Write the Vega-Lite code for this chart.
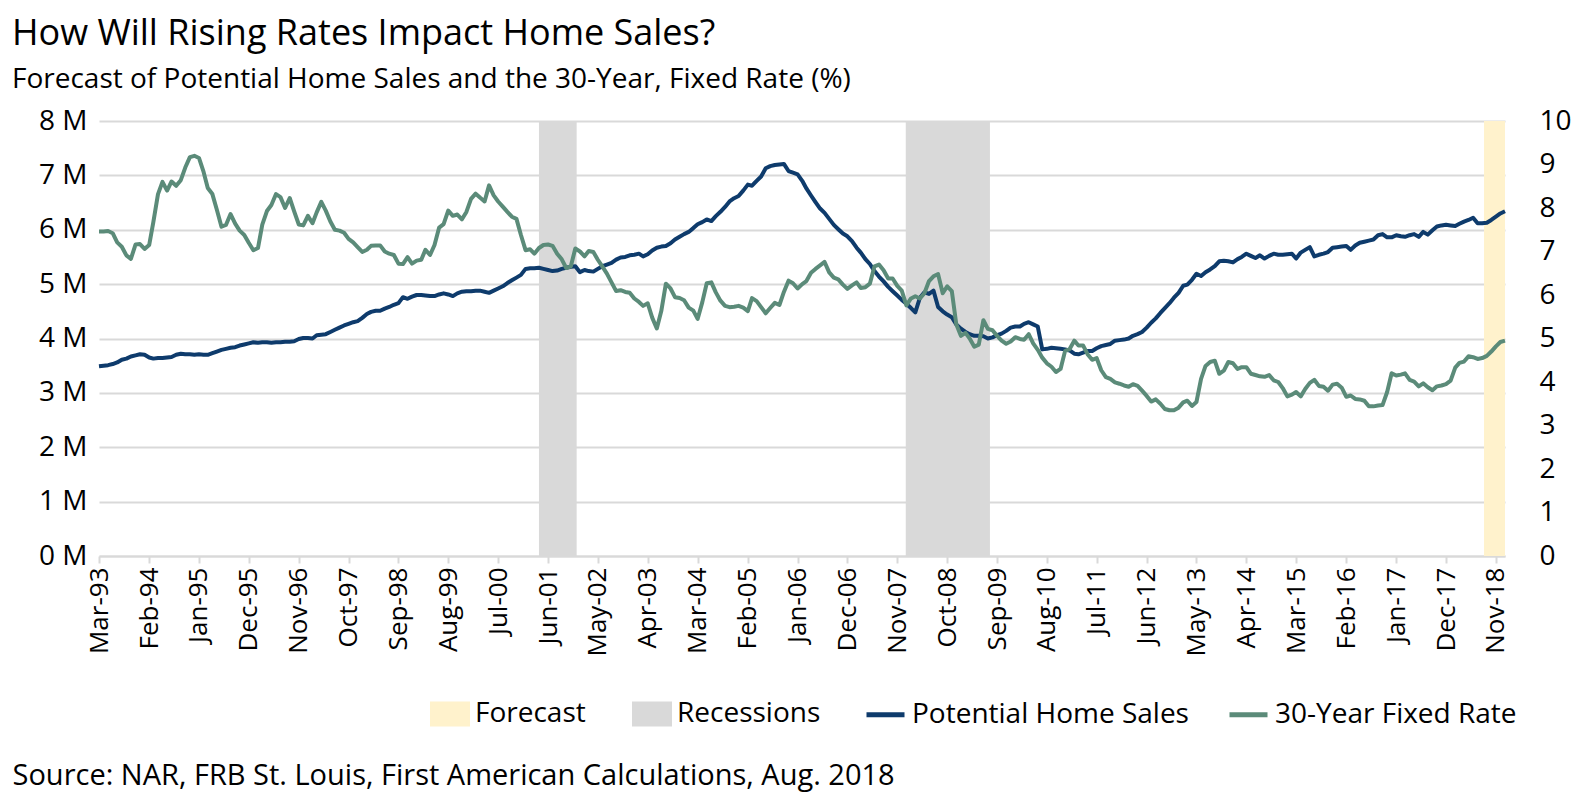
{
"$schema": "https://vega.github.io/schema/vega-lite/v6.json",
"width": 1406, "height": 435,
"autosize": {"type": "none"},
"padding": {"left": 99, "top": 121, "right": 80, "bottom": 248},
"background": "white",
"config": {"font": "Open Sans", "view": {"stroke": null}},
"title": {"text": "How Will Rising Rates Impact Home Sales?", "subtitle": "Forecast of Potential Home Sales and the 30-Year, Fixed Rate (%)", "anchor": "start", "frame": "group", "dx": -87, "offset": 12, "fontSize": 36, "fontWeight": "normal", "color": "#000000", "subtitleFontSize": 28, "subtitleColor": "#000000", "subtitlePadding": 13, "font": "Open Sans", "subtitleFont": "Open Sans"},
"datasets": {
"bands": [
{"start": "2001-04-01", "end": "2001-12-10", "band": "Recessions"},
{"start": "2007-12-28", "end": "2009-07-15", "band": "Recessions"},
{"start": "2018-08-13", "end": "2019-01-01", "band": "Forecast"}
],
"series": [
{"date":"1993-03-01","sales":3.49,"rate":7.46},{"date":"1993-04-01","sales":3.50,"rate":7.46},{"date":"1993-05-01","sales":3.51,"rate":7.47},{"date":"1993-06-01","sales":3.53,"rate":7.42},{"date":"1993-07-01","sales":3.56,"rate":7.21},{"date":"1993-08-01","sales":3.61,"rate":7.11},{"date":"1993-09-01","sales":3.63,"rate":6.91},{"date":"1993-10-01","sales":3.67,"rate":6.83},{"date":"1993-11-01","sales":3.69,"rate":7.16},{"date":"1993-12-01","sales":3.71,"rate":7.17},
{"date":"1994-01-01","sales":3.70,"rate":7.06},{"date":"1994-02-01","sales":3.65,"rate":7.15},{"date":"1994-03-01","sales":3.63,"rate":7.68},{"date":"1994-04-01","sales":3.64,"rate":8.32},{"date":"1994-05-01","sales":3.64,"rate":8.60},{"date":"1994-06-01","sales":3.65,"rate":8.40},{"date":"1994-07-01","sales":3.66,"rate":8.61},{"date":"1994-08-01","sales":3.70,"rate":8.51},{"date":"1994-09-01","sales":3.72,"rate":8.64},{"date":"1994-10-01","sales":3.71,"rate":8.93},{"date":"1994-11-01","sales":3.71,"rate":9.17},{"date":"1994-12-01","sales":3.70,"rate":9.20},
{"date":"1995-01-01","sales":3.71,"rate":9.15},{"date":"1995-02-01","sales":3.70,"rate":8.83},{"date":"1995-03-01","sales":3.70,"rate":8.46},{"date":"1995-04-01","sales":3.73,"rate":8.32},{"date":"1995-05-01","sales":3.76,"rate":7.96},{"date":"1995-06-01","sales":3.79,"rate":7.57},{"date":"1995-07-01","sales":3.81,"rate":7.61},{"date":"1995-08-01","sales":3.83,"rate":7.86},{"date":"1995-09-01","sales":3.84,"rate":7.64},{"date":"1995-10-01","sales":3.87,"rate":7.48},{"date":"1995-11-01","sales":3.89,"rate":7.38},{"date":"1995-12-01","sales":3.91,"rate":7.20},
{"date":"1996-01-01","sales":3.93,"rate":7.03},{"date":"1996-02-01","sales":3.92,"rate":7.08},{"date":"1996-03-01","sales":3.93,"rate":7.62},{"date":"1996-04-01","sales":3.93,"rate":7.93},{"date":"1996-05-01","sales":3.92,"rate":8.07},{"date":"1996-06-01","sales":3.93,"rate":8.32},{"date":"1996-07-01","sales":3.93,"rate":8.25},{"date":"1996-08-01","sales":3.94,"rate":8.00},{"date":"1996-09-01","sales":3.94,"rate":8.23},{"date":"1996-10-01","sales":3.95,"rate":7.92},{"date":"1996-11-01","sales":3.99,"rate":7.62},{"date":"1996-12-01","sales":4.01,"rate":7.60},
{"date":"1997-01-01","sales":4.01,"rate":7.82},{"date":"1997-02-01","sales":4.00,"rate":7.65},{"date":"1997-03-01","sales":4.06,"rate":7.90},{"date":"1997-04-01","sales":4.07,"rate":8.14},{"date":"1997-05-01","sales":4.08,"rate":7.94},{"date":"1997-06-01","sales":4.12,"rate":7.69},{"date":"1997-07-01","sales":4.16,"rate":7.50},{"date":"1997-08-01","sales":4.20,"rate":7.48},{"date":"1997-09-01","sales":4.24,"rate":7.43},{"date":"1997-10-01","sales":4.27,"rate":7.29},{"date":"1997-11-01","sales":4.30,"rate":7.21},{"date":"1997-12-01","sales":4.32,"rate":7.10},
{"date":"1998-01-01","sales":4.38,"rate":6.99},{"date":"1998-02-01","sales":4.45,"rate":7.04},{"date":"1998-03-01","sales":4.49,"rate":7.13},{"date":"1998-04-01","sales":4.51,"rate":7.14},{"date":"1998-05-01","sales":4.51,"rate":7.14},{"date":"1998-06-01","sales":4.55,"rate":7.00},{"date":"1998-07-01","sales":4.58,"rate":6.95},{"date":"1998-08-01","sales":4.62,"rate":6.92},{"date":"1998-09-01","sales":4.65,"rate":6.72},{"date":"1998-10-01","sales":4.76,"rate":6.71},{"date":"1998-11-01","sales":4.73,"rate":6.87},{"date":"1998-12-01","sales":4.77,"rate":6.72},
{"date":"1999-01-01","sales":4.80,"rate":6.79},{"date":"1999-02-01","sales":4.80,"rate":6.81},{"date":"1999-03-01","sales":4.79,"rate":7.04},{"date":"1999-04-01","sales":4.78,"rate":6.92},{"date":"1999-05-01","sales":4.78,"rate":7.15},{"date":"1999-06-01","sales":4.81,"rate":7.55},{"date":"1999-07-01","sales":4.83,"rate":7.63},{"date":"1999-08-01","sales":4.81,"rate":7.94},{"date":"1999-09-01","sales":4.78,"rate":7.82},{"date":"1999-10-01","sales":4.83,"rate":7.85},{"date":"1999-11-01","sales":4.86,"rate":7.74},{"date":"1999-12-01","sales":4.87,"rate":7.91},
{"date":"2000-01-01","sales":4.87,"rate":8.21},{"date":"2000-02-01","sales":4.88,"rate":8.33},{"date":"2000-03-01","sales":4.88,"rate":8.24},{"date":"2000-04-01","sales":4.86,"rate":8.15},{"date":"2000-05-01","sales":4.84,"rate":8.52},{"date":"2000-06-01","sales":4.88,"rate":8.29},{"date":"2000-07-01","sales":4.92,"rate":8.15},{"date":"2000-08-01","sales":4.96,"rate":8.03},{"date":"2000-09-01","sales":5.02,"rate":7.91},{"date":"2000-10-01","sales":5.07,"rate":7.80},{"date":"2000-11-01","sales":5.12,"rate":7.75},{"date":"2000-12-01","sales":5.17,"rate":7.38},
{"date":"2001-01-01","sales":5.28,"rate":7.03},{"date":"2001-02-01","sales":5.29,"rate":7.05},{"date":"2001-03-01","sales":5.29,"rate":6.95},{"date":"2001-04-01","sales":5.30,"rate":7.08},{"date":"2001-05-01","sales":5.28,"rate":7.15},{"date":"2001-06-01","sales":5.26,"rate":7.16},{"date":"2001-07-01","sales":5.24,"rate":7.13},{"date":"2001-08-01","sales":5.25,"rate":6.95},{"date":"2001-09-01","sales":5.28,"rate":6.82},{"date":"2001-10-01","sales":5.30,"rate":6.62},{"date":"2001-11-01","sales":5.32,"rate":6.66},{"date":"2001-12-01","sales":5.33,"rate":7.07},
{"date":"2002-01-01","sales":5.22,"rate":7.00},{"date":"2002-02-01","sales":5.26,"rate":6.89},{"date":"2002-03-01","sales":5.24,"rate":7.01},{"date":"2002-04-01","sales":5.23,"rate":6.99},{"date":"2002-05-01","sales":5.28,"rate":6.81},{"date":"2002-06-01","sales":5.33,"rate":6.65},{"date":"2002-07-01","sales":5.36,"rate":6.49},{"date":"2002-08-01","sales":5.39,"rate":6.29},{"date":"2002-09-01","sales":5.45,"rate":6.09},{"date":"2002-10-01","sales":5.49,"rate":6.11},{"date":"2002-11-01","sales":5.50,"rate":6.07},{"date":"2002-12-01","sales":5.53,"rate":6.05},
{"date":"2003-01-01","sales":5.54,"rate":5.92},{"date":"2003-02-01","sales":5.56,"rate":5.84},{"date":"2003-03-01","sales":5.51,"rate":5.75},{"date":"2003-04-01","sales":5.55,"rate":5.81},{"date":"2003-05-01","sales":5.62,"rate":5.48},{"date":"2003-06-01","sales":5.67,"rate":5.23},{"date":"2003-07-01","sales":5.69,"rate":5.63},{"date":"2003-08-01","sales":5.70,"rate":6.26},{"date":"2003-09-01","sales":5.75,"rate":6.15},{"date":"2003-10-01","sales":5.82,"rate":5.95},{"date":"2003-11-01","sales":5.87,"rate":5.93},{"date":"2003-12-01","sales":5.92,"rate":5.88},
{"date":"2004-01-01","sales":5.96,"rate":5.71},{"date":"2004-02-01","sales":6.03,"rate":5.64},{"date":"2004-03-01","sales":6.10,"rate":5.45},{"date":"2004-04-01","sales":6.14,"rate":5.83},{"date":"2004-05-01","sales":6.19,"rate":6.27},{"date":"2004-06-01","sales":6.16,"rate":6.29},{"date":"2004-07-01","sales":6.25,"rate":6.06},{"date":"2004-08-01","sales":6.33,"rate":5.87},{"date":"2004-09-01","sales":6.42,"rate":5.75},{"date":"2004-10-01","sales":6.52,"rate":5.72},{"date":"2004-11-01","sales":6.58,"rate":5.73},{"date":"2004-12-01","sales":6.62,"rate":5.75},
{"date":"2005-01-01","sales":6.72,"rate":5.71},{"date":"2005-02-01","sales":6.83,"rate":5.63},{"date":"2005-03-01","sales":6.81,"rate":5.93},{"date":"2005-04-01","sales":6.90,"rate":5.86},{"date":"2005-05-01","sales":6.98,"rate":5.72},{"date":"2005-06-01","sales":7.13,"rate":5.58},{"date":"2005-07-01","sales":7.17,"rate":5.70},{"date":"2005-08-01","sales":7.19,"rate":5.82},{"date":"2005-09-01","sales":7.20,"rate":5.77},{"date":"2005-10-01","sales":7.21,"rate":6.07},{"date":"2005-11-01","sales":7.08,"rate":6.33},{"date":"2005-12-01","sales":7.05,"rate":6.27},
{"date":"2006-01-01","sales":7.02,"rate":6.15},{"date":"2006-02-01","sales":6.90,"rate":6.25},{"date":"2006-03-01","sales":6.76,"rate":6.32},{"date":"2006-04-01","sales":6.63,"rate":6.51},{"date":"2006-05-01","sales":6.51,"rate":6.60},{"date":"2006-06-01","sales":6.39,"rate":6.68},{"date":"2006-07-01","sales":6.31,"rate":6.76},{"date":"2006-08-01","sales":6.20,"rate":6.52},{"date":"2006-09-01","sales":6.09,"rate":6.40},{"date":"2006-10-01","sales":6.01,"rate":6.36},{"date":"2006-11-01","sales":5.93,"rate":6.24},{"date":"2006-12-01","sales":5.88,"rate":6.14},
{"date":"2007-01-01","sales":5.79,"rate":6.22},{"date":"2007-02-01","sales":5.67,"rate":6.29},{"date":"2007-03-01","sales":5.58,"rate":6.16},{"date":"2007-04-01","sales":5.46,"rate":6.18},{"date":"2007-05-01","sales":5.37,"rate":6.26},{"date":"2007-06-01","sales":5.24,"rate":6.66},{"date":"2007-07-01","sales":5.14,"rate":6.70},{"date":"2007-08-01","sales":5.05,"rate":6.57},{"date":"2007-09-01","sales":4.95,"rate":6.38},{"date":"2007-10-01","sales":4.87,"rate":6.38},{"date":"2007-11-01","sales":4.79,"rate":6.21},{"date":"2007-12-01","sales":4.71,"rate":6.10},
{"date":"2008-01-01","sales":4.64,"rate":5.76},{"date":"2008-02-01","sales":4.56,"rate":5.92},{"date":"2008-03-01","sales":4.48,"rate":5.97},{"date":"2008-04-01","sales":4.75,"rate":5.92},{"date":"2008-05-01","sales":4.85,"rate":6.04},{"date":"2008-06-01","sales":4.82,"rate":6.32},{"date":"2008-07-01","sales":4.88,"rate":6.43},{"date":"2008-08-01","sales":4.58,"rate":6.48},{"date":"2008-09-01","sales":4.50,"rate":6.04},{"date":"2008-10-01","sales":4.44,"rate":6.20},{"date":"2008-11-01","sales":4.39,"rate":6.09},{"date":"2008-12-01","sales":4.26,"rate":5.33},
{"date":"2009-01-01","sales":4.18,"rate":5.06},{"date":"2009-02-01","sales":4.12,"rate":5.13},{"date":"2009-03-01","sales":4.08,"rate":5.00},{"date":"2009-04-01","sales":4.05,"rate":4.81},{"date":"2009-05-01","sales":4.05,"rate":4.86},{"date":"2009-06-01","sales":4.04,"rate":5.42},{"date":"2009-07-01","sales":4.00,"rate":5.22},{"date":"2009-08-01","sales":4.02,"rate":5.19},{"date":"2009-09-01","sales":4.06,"rate":5.06},{"date":"2009-10-01","sales":4.09,"rate":4.95},{"date":"2009-11-01","sales":4.14,"rate":4.88},{"date":"2009-12-01","sales":4.20,"rate":4.93},
{"date":"2010-01-01","sales":4.22,"rate":5.03},{"date":"2010-02-01","sales":4.22,"rate":4.99},{"date":"2010-03-01","sales":4.27,"rate":4.97},{"date":"2010-04-01","sales":4.30,"rate":5.10},{"date":"2010-05-01","sales":4.26,"rate":4.89},{"date":"2010-06-01","sales":4.22,"rate":4.74},{"date":"2010-07-01","sales":3.80,"rate":4.56},{"date":"2010-08-01","sales":3.81,"rate":4.43},{"date":"2010-09-01","sales":3.83,"rate":4.35},{"date":"2010-10-01","sales":3.82,"rate":4.23},{"date":"2010-11-01","sales":3.81,"rate":4.30},{"date":"2010-12-01","sales":3.80,"rate":4.71},
{"date":"2011-01-01","sales":3.78,"rate":4.76},{"date":"2011-02-01","sales":3.72,"rate":4.95},{"date":"2011-03-01","sales":3.71,"rate":4.84},{"date":"2011-04-01","sales":3.74,"rate":4.84},{"date":"2011-05-01","sales":3.77,"rate":4.64},{"date":"2011-06-01","sales":3.77,"rate":4.51},{"date":"2011-07-01","sales":3.82,"rate":4.55},{"date":"2011-08-01","sales":3.86,"rate":4.27},{"date":"2011-09-01","sales":3.88,"rate":4.11},{"date":"2011-10-01","sales":3.90,"rate":4.07},{"date":"2011-11-01","sales":3.96,"rate":3.99},{"date":"2011-12-01","sales":3.97,"rate":3.96},
{"date":"2012-01-01","sales":3.98,"rate":3.92},{"date":"2012-02-01","sales":4.00,"rate":3.89},{"date":"2012-03-01","sales":4.05,"rate":3.95},{"date":"2012-04-01","sales":4.08,"rate":3.91},{"date":"2012-05-01","sales":4.12,"rate":3.80},{"date":"2012-06-01","sales":4.20,"rate":3.68},{"date":"2012-07-01","sales":4.29,"rate":3.55},{"date":"2012-08-01","sales":4.37,"rate":3.60},{"date":"2012-09-01","sales":4.47,"rate":3.50},{"date":"2012-10-01","sales":4.56,"rate":3.38},{"date":"2012-11-01","sales":4.65,"rate":3.35},{"date":"2012-12-01","sales":4.75,"rate":3.35},
{"date":"2013-01-01","sales":4.84,"rate":3.41},{"date":"2013-02-01","sales":4.97,"rate":3.53},{"date":"2013-03-01","sales":4.99,"rate":3.57},{"date":"2013-04-01","sales":5.08,"rate":3.45},{"date":"2013-05-01","sales":5.19,"rate":3.54},{"date":"2013-06-01","sales":5.15,"rate":4.07},{"date":"2013-07-01","sales":5.22,"rate":4.37},{"date":"2013-08-01","sales":5.27,"rate":4.46},{"date":"2013-09-01","sales":5.33,"rate":4.49},{"date":"2013-10-01","sales":5.42,"rate":4.19},{"date":"2013-11-01","sales":5.43,"rate":4.26},{"date":"2013-12-01","sales":5.42,"rate":4.46},
{"date":"2014-01-01","sales":5.40,"rate":4.43},{"date":"2014-02-01","sales":5.46,"rate":4.30},{"date":"2014-03-01","sales":5.50,"rate":4.34},{"date":"2014-04-01","sales":5.56,"rate":4.34},{"date":"2014-05-01","sales":5.52,"rate":4.19},{"date":"2014-06-01","sales":5.48,"rate":4.16},{"date":"2014-07-01","sales":5.53,"rate":4.13},{"date":"2014-08-01","sales":5.47,"rate":4.12},{"date":"2014-09-01","sales":5.52,"rate":4.16},{"date":"2014-10-01","sales":5.56,"rate":4.04},{"date":"2014-11-01","sales":5.54,"rate":4.00},{"date":"2014-12-01","sales":5.54,"rate":3.86},
{"date":"2015-01-01","sales":5.55,"rate":3.67},{"date":"2015-02-01","sales":5.56,"rate":3.71},{"date":"2015-03-01","sales":5.47,"rate":3.77},{"date":"2015-04-01","sales":5.58,"rate":3.67},{"date":"2015-05-01","sales":5.63,"rate":3.84},{"date":"2015-06-01","sales":5.68,"rate":3.98},{"date":"2015-07-01","sales":5.51,"rate":4.05},{"date":"2015-08-01","sales":5.54,"rate":3.91},{"date":"2015-09-01","sales":5.56,"rate":3.89},{"date":"2015-10-01","sales":5.59,"rate":3.80},{"date":"2015-11-01","sales":5.67,"rate":3.94},{"date":"2015-12-01","sales":5.68,"rate":3.96},
{"date":"2016-01-01","sales":5.69,"rate":3.87},{"date":"2016-02-01","sales":5.70,"rate":3.66},{"date":"2016-03-01","sales":5.63,"rate":3.69},{"date":"2016-04-01","sales":5.71,"rate":3.61},{"date":"2016-05-01","sales":5.76,"rate":3.60},{"date":"2016-06-01","sales":5.78,"rate":3.57},{"date":"2016-07-01","sales":5.80,"rate":3.44},{"date":"2016-08-01","sales":5.82,"rate":3.44},{"date":"2016-09-01","sales":5.90,"rate":3.46},{"date":"2016-10-01","sales":5.92,"rate":3.47},{"date":"2016-11-01","sales":5.86,"rate":3.77},{"date":"2016-12-01","sales":5.86,"rate":4.20},
{"date":"2017-01-01","sales":5.90,"rate":4.15},{"date":"2017-02-01","sales":5.88,"rate":4.17},{"date":"2017-03-01","sales":5.87,"rate":4.20},{"date":"2017-04-01","sales":5.90,"rate":4.05},{"date":"2017-05-01","sales":5.92,"rate":4.01},{"date":"2017-06-01","sales":5.87,"rate":3.90},{"date":"2017-07-01","sales":5.96,"rate":3.97},{"date":"2017-08-01","sales":5.91,"rate":3.88},{"date":"2017-09-01","sales":5.99,"rate":3.81},{"date":"2017-10-01","sales":6.06,"rate":3.90},{"date":"2017-11-01","sales":6.08,"rate":3.92},{"date":"2017-12-01","sales":6.09,"rate":3.95},
{"date":"2018-01-01","sales":6.08,"rate":4.03},{"date":"2018-02-01","sales":6.07,"rate":4.33},{"date":"2018-03-01","sales":6.11,"rate":4.44},{"date":"2018-04-01","sales":6.15,"rate":4.47},{"date":"2018-05-01","sales":6.18,"rate":4.59},{"date":"2018-06-01","sales":6.22,"rate":4.57},{"date":"2018-07-01","sales":6.12,"rate":4.53},{"date":"2018-08-01","sales":6.12,"rate":4.55},{"date":"2018-09-01","sales":6.13,"rate":4.60},{"date":"2018-10-01","sales":6.18,"rate":4.70},{"date":"2018-11-01","sales":6.24,"rate":4.82},{"date":"2018-12-01","sales":6.30,"rate":4.92},
{"date":"2019-01-01","sales":6.34,"rate":4.95}
]
},
"layer": [
{
"data": {"name": "bands"},
"mark": {"type": "rect"},
"encoding": {
"x": {"field": "start", "type": "temporal",
 "scale": {"type": "utc", "nice": false, "domain": [{"year": 1993, "month": 3, "date": 1, "utc": true}, {"year": 2019, "month": 1, "date": 1, "utc": true}]},
 "axis": {
  "values": [{"year":1993,"month":3,"date":1,"utc":true},{"year":1994,"month":2,"date":1,"utc":true},{"year":1995,"month":1,"date":1,"utc":true},{"year":1995,"month":12,"date":1,"utc":true},{"year":1996,"month":11,"date":1,"utc":true},{"year":1997,"month":10,"date":1,"utc":true},{"year":1998,"month":9,"date":1,"utc":true},{"year":1999,"month":8,"date":1,"utc":true},{"year":2000,"month":7,"date":1,"utc":true},{"year":2001,"month":6,"date":1,"utc":true},{"year":2002,"month":5,"date":1,"utc":true},{"year":2003,"month":4,"date":1,"utc":true},{"year":2004,"month":3,"date":1,"utc":true},{"year":2005,"month":2,"date":1,"utc":true},{"year":2006,"month":1,"date":1,"utc":true},{"year":2006,"month":12,"date":1,"utc":true},{"year":2007,"month":11,"date":1,"utc":true},{"year":2008,"month":10,"date":1,"utc":true},{"year":2009,"month":9,"date":1,"utc":true},{"year":2010,"month":8,"date":1,"utc":true},{"year":2011,"month":7,"date":1,"utc":true},{"year":2012,"month":6,"date":1,"utc":true},{"year":2013,"month":5,"date":1,"utc":true},{"year":2014,"month":4,"date":1,"utc":true},{"year":2015,"month":3,"date":1,"utc":true},{"year":2016,"month":2,"date":1,"utc":true},{"year":2017,"month":1,"date":1,"utc":true},{"year":2017,"month":12,"date":1,"utc":true},{"year":2018,"month":11,"date":1,"utc":true}],
  "format": "%b-%y", "labelAngle": -90, "labelAlign": "right", "labelBaseline": "middle",
  "labelFontSize": 26, "labelColor": "#000000", "labelFont": "Open Sans", "labelPadding": 4, "labelOverlap": false, "labelFlush": false, "labelBound": false,
  "tickSize": 7, "tickColor": "#D9D9D9", "tickWidth": 2, "domainColor": "#D9D9D9", "domainWidth": 2, "grid": false,
  "title": "Source: NAR, FRB St. Louis, First American Calculations, Aug. 2018",
  "titleFont": "Open Sans", "titleFontSize": 29, "titleFontWeight": "normal", "titleColor": "#000000",
  "titleAnchor": "start", "titleAlign": "left", "titleBaseline": "alphabetic", "titleX": -87, "titleY": 228
 }},
"x2": {"field": "end"},
"fill": {"field": "band", "type": "nominal",
 "scale": {"domain": ["Forecast", "Recessions"], "range": ["#FFF2CC", "#D9D9D9"]},
 "legend": {"orient": "none", "legendX": 331, "legendY": 573, "direction": "horizontal", "title": null, "symbolType": "M-1,-0.62H1V0.62H-1Z", "symbolSize": 1600, "symbolStrokeWidth": 0, "labelFontSize": 28, "labelFont": "Open Sans", "labelColor": "#000000", "labelLimit": 600, "columnPadding": 46, "labelOffset": 5}}
}
},
{
"data": {"name": "series"},
"mark": {"type": "line", "strokeWidth": 4, "strokeJoin": "round"},
"encoding": {
"x": {"field": "date", "type": "temporal"},
"y": {"field": "sales", "type": "quantitative", "scale": {"domain": [0, 8], "nice": false},
 "axis": {"orient": "left", "values": [0,1,2,3,4,5,6,7,8], "labelExpr": "datum.value + ' M'", "labelFontSize": 28, "labelFont": "Open Sans", "labelColor": "#000000", "labelPadding": 12, "domain": false, "ticks": false, "grid": true, "gridColor": "#D9D9D9", "gridWidth": 2, "title": null}},
"stroke": {"datum": "Potential Home Sales", "type": "nominal",
 "scale": {"domain": ["Potential Home Sales", "30-Year Fixed Rate"], "range": ["#0E3B6C", "#5B8B79"]},
 "legend": {"orient": "none", "legendX": 765, "legendY": 572, "direction": "horizontal", "title": null, "symbolType": "stroke", "symbolStrokeWidth": 5, "symbolSize": 1444, "labelFontSize": 28, "labelFont": "Open Sans", "labelColor": "#000000", "labelLimit": 600, "columnPadding": 30, "labelOffset": 5}}
}
},
{
"data": {"name": "series"},
"mark": {"type": "line", "strokeWidth": 4, "strokeJoin": "round"},
"encoding": {
"x": {"field": "date", "type": "temporal"},
"y": {"field": "rate", "type": "quantitative", "scale": {"domain": [0, 10], "nice": false},
 "axis": {"orient": "right", "offset": 32, "values": [0,1,2,3,4,5,6,7,8,9,10], "labelFontSize": 28, "labelFont": "Open Sans", "labelColor": "#000000", "labelAlign": "left", "labelBaseline": "middle", "labelPadding": 2, "domain": false, "ticks": false, "grid": false, "title": null}},
"stroke": {"datum": "30-Year Fixed Rate", "type": "nominal"}
}
}
],
"resolve": {"scale": {"y": "independent"}}
}
